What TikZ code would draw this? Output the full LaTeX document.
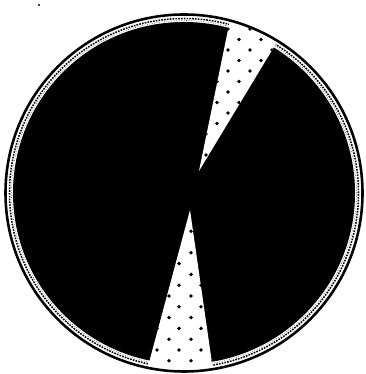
\documentclass[tikz,border=0pt]{standalone}
\usepackage{tikz}
\usetikzlibrary{calc}

\begin{document}
\begin{tikzpicture}[x=0.03cm, y=0.03cm]
        % Frame
        \useasboundingbox (0,0) rectangle (365,374);

        % Define coordinates
        \coordinate (C) at (184,181);  % centre of the disk
        \coordinate (A1) at (199,203); % apex of upper wedge
        \coordinate (A2) at (190,164); % apex of lower wedge
        \coordinate (U1) at ($(A1)!1.2!(230,354)$);
        \coordinate (U2) at ($(A1)!1.2!(280,337)$);
        \coordinate (D1) at ($(A2)!1.2!(147,4)$);
        \coordinate (D2) at ($(A2)!1.2!(213,4)$);

        % Speckled rim
        \draw[black, line width=1.3pt, dash pattern=on 1.4pt off 1pt] (C) circle (174.5);
        \draw[black!70, line width=0.6pt, dash pattern=on 0.5pt off 1.6pt] (C) circle (172.5);

        % Dark disk
        \fill[black] (C) circle (171);

        % Upper wedge
        \begin{scope}
            \clip (C) circle (178);
            \fill[white] (A1) -- (U1) -- (U2) -- cycle;
            \clip (A1) -- (U1) -- (U2) -- cycle;
            \foreach \k in {0,...,17} {
                \foreach \m in {-4,...,2} {
                    \pgfmathsetmacro{\dx}{250 + 22*\m - 11*mod(\k,2)}
                    \pgfmathsetmacro{\dy}{345 - 10.5*\k}
                    \fill (\dx,\dy) circle (1.9);
                }
            }
        \end{scope}

        % Lower wedge
        \begin{scope}
            \clip (C) circle (178);
            \fill[white] (A2) -- (D1) -- (D2) -- cycle;
            \clip (A2) -- (D1) -- (D2) -- cycle;
            \foreach \k in {-8,...,10} {
                \foreach \m in {-2,...,3} {
                    \pgfmathsetmacro{\dx}{169 + 22*\m + 10*mod(\k+10,2)}
                    \pgfmathsetmacro{\dy}{78 + 10.8*\k}
                    \fill (\dx,\dy) circle (1.9);
                }
            }
        \end{scope}

        % Outer line
        \draw[line width=2.2pt] (C) circle (178.5);

        % Stray speck
        \fill (39,369) circle (1.2);
\end{tikzpicture}
\end{document}
